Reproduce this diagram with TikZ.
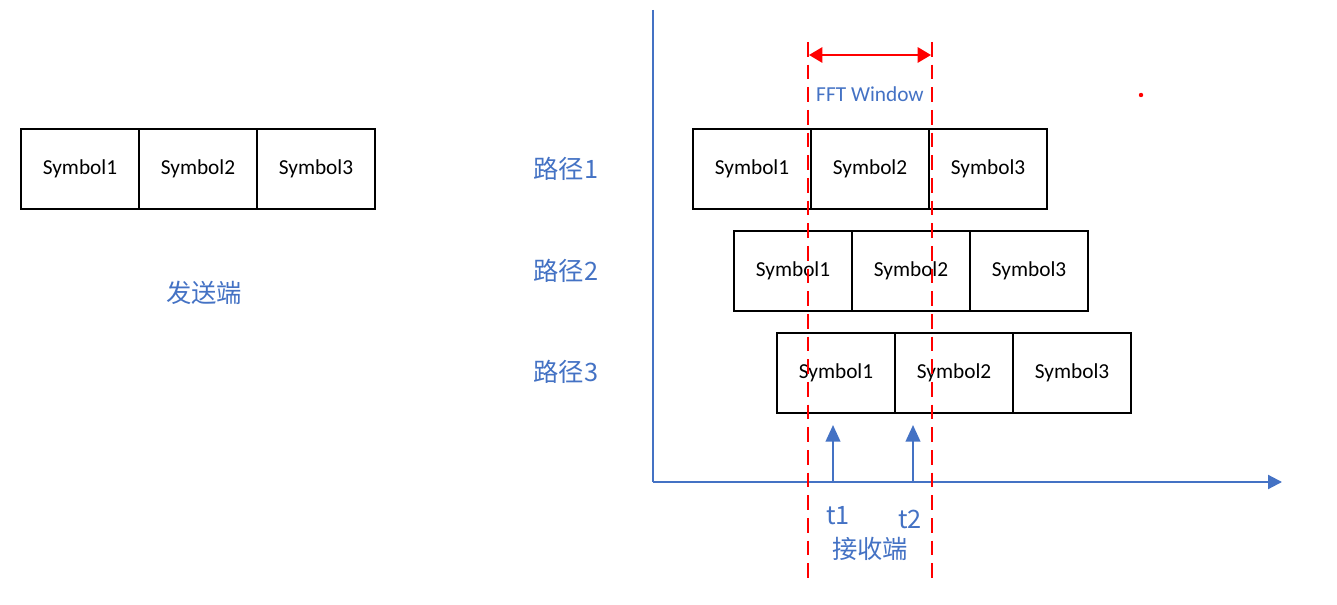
\documentclass[tikz,border=0pt]{standalone}
\usepackage{fontspec}
\setmainfont{Carlito}
\newfontfamily\cjk{Noto Sans CJK SC}
\usetikzlibrary{arrows.meta}
\definecolor{axblue}{HTML}{4472C4}
\definecolor{wred}{HTML}{FF0000}
\tikzset{
  symbox/.style={draw=black, line width=1pt, minimum width=88.5pt, minimum height=60pt, inner sep=0pt, font=\fontsize{16}{18}\selectfont},
  cjklabel/.style={text=axblue, font=\cjk\fontsize{19}{22}\selectfont, inner sep=0pt},
  axisline/.style={draw=axblue, line width=1.6pt},
  redline/.style={draw=wred, line width=1.5pt, dash pattern=on 11pt off 6pt},
}
\begin{document}
\begin{tikzpicture}[x=0.75pt,y=-0.75pt]
\useasboundingbox (0,0) rectangle (1337,605);
% sender
\node[symbox] (s1) at (80,169) {Symbol1};
\node[symbox] (s2) at (198,169) {Symbol2};
\node[symbox] (s3) at (316,169) {Symbol3};
\node[cjklabel] (send) at (204,293) {发送端};
% axes
\coordinate (top) at (653,10);
\coordinate (O) at (653,482);
\coordinate (xend) at (1282,482);
\draw[axisline] (top) -- (O);
\draw[axisline, -{Triangle[length=10.5pt,width=10.5pt]}] (O) -- (xend);
% path 1
\node[symbox] (a1) at (752,169) {Symbol1};
\node[symbox] (a2) at (870,169) {Symbol2};
\node[symbox] (a3) at (988,169) {Symbol3};
% path 2
\node[symbox] (b1) at (793,271) {Symbol1};
\node[symbox] (b2) at (911,271) {Symbol2};
\node[symbox] (b3) at (1029,271) {Symbol3};
% path 3
\node[symbox] (c1) at (836,373) {Symbol1};
\node[symbox] (c2) at (954,373) {Symbol2};
\node[symbox] (c3) at (1072,373) {Symbol3};
\node[cjklabel] (p1) at (566,169) {路径1};
\node[cjklabel] (p2) at (566,271) {路径2};
\node[cjklabel] (p3) at (566,372) {路径3};
% t arrows
\coordinate (t1b) at (833,482);
\coordinate (t1t) at (833,425);
\coordinate (t2b) at (913,482);
\coordinate (t2t) at (913,425);
\draw[draw=axblue, line width=1.5pt, -{Triangle[length=12.5pt,width=11pt]}] (t1b) -- (t1t);
\draw[draw=axblue, line width=1.5pt, -{Triangle[length=12.5pt,width=11pt]}] (t2b) -- (t2t);
\node[cjklabel] (t1) at (838,516) {t1};
\node[cjklabel] (t2) at (910,519) {t2};
\node[cjklabel] (recv) at (870,549) {接收端};
% FFT window
\coordinate (Lt) at (808,42);
\coordinate (Lb) at (808,582);
\coordinate (Rt) at (932,42);
\coordinate (Rb) at (932,582);
\draw[redline] (Lt) -- (Lb);
\draw[redline] (Rt) -- (Rb);
\coordinate (wl) at (809,55);
\coordinate (wr) at (931,55);
\draw[draw=wred, line width=1.5pt, {Triangle[length=10pt,width=11.5pt]}-{Triangle[length=10pt,width=11.5pt]}] (wl) -- (wr);
\node[text=axblue, font=\fontsize{16}{18}\selectfont, inner sep=0pt] (fft) at (870,94) {FFT Window};
\fill[wred] (1141,95) circle (2.2);
\end{tikzpicture}
\end{document}
